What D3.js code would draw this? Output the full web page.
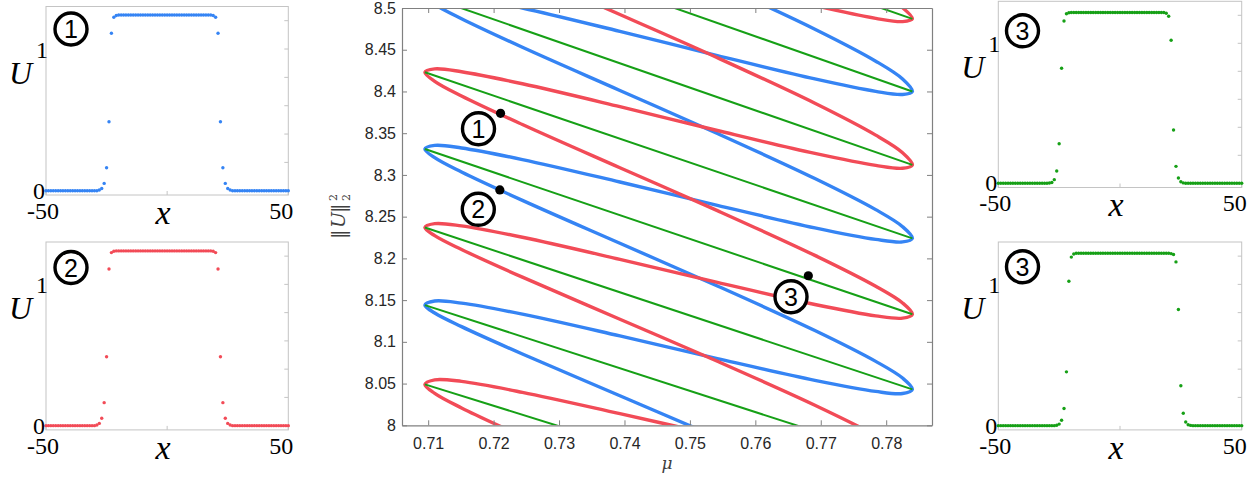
<!DOCTYPE html>
<html>
<head>
<meta charset="utf-8">
<script src="https://cdn.jsdelivr.net/npm/d3@7"></script>
<style>
  body { margin: 0; background: #fff; }
  svg { display: block; }
</style>
</head>
<body>
<svg id="fig" width="1260" height="482"></svg>
<script>
// ---------------- bifurcation diagram data: [mu, ||U||^2] ----------------
// red branch (bond-centred snake), traced from the top of the window downwards
const redBranch = [
  [0.7393, 8.6616], [0.7542, 8.6099], [0.7691, 8.5568], [0.7784, 8.5201], [0.7825, 8.5003], [0.7840, 8.4870],
  [0.7825, 8.4837], [0.7784, 8.4876], [0.7691, 8.5029], [0.7542, 8.5313], [0.7393, 8.5607], [0.7244, 8.5891], [0.7151, 8.6044], [0.7110, 8.6084], [0.7095, 8.6050],
  [0.7110, 8.5947], [0.7151, 8.5777], [0.7244, 8.5439], [0.7393, 8.4922], [0.7542, 8.4404], [0.7691, 8.3859], [0.7784, 8.3477], [0.7825, 8.3267], [0.7840, 8.3120],
  [0.7825, 8.3080], [0.7784, 8.3114], [0.7691, 8.3258], [0.7542, 8.3532], [0.7393, 8.3818], [0.7244, 8.4092], [0.7151, 8.4236], [0.7110, 8.4270], [0.7095, 8.4230],
  [0.7110, 8.4122], [0.7151, 8.3946], [0.7244, 8.3604], [0.7393, 8.3086], [0.7542, 8.2572], [0.7691, 8.2036], [0.7784, 8.1666], [0.7825, 8.1466], [0.7840, 8.1330],
  [0.7825, 8.1284], [0.7784, 8.1311], [0.7691, 8.1447], [0.7542, 8.1712], [0.7393, 8.1988], [0.7244, 8.2253], [0.7151, 8.2389], [0.7110, 8.2416], [0.7095, 8.2370],
  [0.7110, 8.2272], [0.7151, 8.2106], [0.7244, 8.1775], [0.7393, 8.1271], [0.7542, 8.0767], [0.7691, 8.0241], [0.7784, 7.9878], [0.7825, 7.9682], [0.7840, 7.9550],
  [0.7825, 7.9495], [0.7784, 7.9514], [0.7691, 7.9638], [0.7542, 7.9878], [0.7393, 8.0140], [0.7244, 8.0395], [0.7151, 8.0526], [0.7110, 8.0545], [0.7095, 8.0490],
  [0.7110, 8.0383], [0.7151, 8.0208], [0.7244, 7.9867], [0.7393, 7.9351]
];

// blue branch (site-centred snake)
const blueBranch = [
  [0.7393, 8.5805], [0.7542, 8.5291], [0.7691, 8.4746], [0.7784, 8.4363], [0.7825, 8.4150], [0.7840, 8.4000],
  [0.7825, 8.3964], [0.7784, 8.4001], [0.7691, 8.4150], [0.7542, 8.4430], [0.7393, 8.4720], [0.7244, 8.5000], [0.7151, 8.5149], [0.7110, 8.5186], [0.7095, 8.5150],
  [0.7110, 8.5044], [0.7151, 8.4871], [0.7244, 8.4529], [0.7393, 8.4012], [0.7542, 8.3496], [0.7691, 8.2957], [0.7784, 8.2584], [0.7825, 8.2380], [0.7840, 8.2240],
  [0.7825, 8.2197], [0.7784, 8.2227], [0.7691, 8.2366], [0.7542, 8.2635], [0.7393, 8.2915], [0.7244, 8.3184], [0.7151, 8.3323], [0.7110, 8.3354], [0.7095, 8.3310],
  [0.7110, 8.3206], [0.7151, 8.3034], [0.7244, 8.2695], [0.7393, 8.2181], [0.7542, 8.1669], [0.7691, 8.1136], [0.7784, 8.0766], [0.7825, 8.0566], [0.7840, 8.0430],
  [0.7825, 8.0381], [0.7784, 8.0406], [0.7691, 8.0539], [0.7542, 8.0799], [0.7393, 8.1071], [0.7244, 8.1332], [0.7151, 8.1464], [0.7110, 8.1489], [0.7095, 8.1440],
  [0.7110, 8.1345], [0.7151, 8.1182], [0.7244, 8.0854], [0.7393, 8.0354], [0.7542, 7.9854]
];

// green asymmetric rungs: [mu start, norm start, mu end, norm end]
const greenRungs = [
  [0.7095, 8.690, 0.7840, 8.487],
  [0.7095, 8.605, 0.7840, 8.400],
  [0.7095, 8.515, 0.7840, 8.312],
  [0.7095, 8.423, 0.7840, 8.224],
  [0.7095, 8.331, 0.7840, 8.133],
  [0.7095, 8.237, 0.7840, 8.043],
  [0.7095, 8.144, 0.7840, 7.955],
  [0.7095, 8.049, 0.7840, 7.867]
];

// labelled solutions on the diagram
const markerIds  = ["1", "2", "3"];
const markerMu   = [0.72106, 0.72095, 0.7681];
const markerNorm = [8.3738, 8.2820, 8.1792];

const muTicks   = [0.71, 0.72, 0.73, 0.74, 0.75, 0.76, 0.77, 0.78];
const normTicks = [8, 8.05, 8.1, 8.15, 8.2, 8.25, 8.3, 8.35, 8.4, 8.45, 8.5];

// ---------------- solution profiles U(x), x = -50 ... 50 ----------------
const xSites = d3.range(-50, 51);

const profile1 = [
  0, 0, 0, 0, 0, 0, 0, 0, 0, 0,
  0, 0, 0, 0, 0, 0, 0, 0, 0, 0,
  0, 0, 0.005, 0.016, 0.052, 0.162, 0.487, 1.111, 1.224, 1.237,
  1.24, 1.24, 1.24, 1.24, 1.24, 1.24, 1.24, 1.24, 1.24, 1.24,
  1.24, 1.24, 1.24, 1.24, 1.24, 1.24, 1.24, 1.24, 1.24, 1.24,
  1.24, 1.24, 1.24, 1.24, 1.24, 1.24, 1.24, 1.24, 1.24, 1.24,
  1.24, 1.24, 1.24, 1.24, 1.24, 1.24, 1.24, 1.24, 1.24, 1.237,
  1.224, 1.111, 0.487, 0.162, 0.052, 0.016, 0.005, 0, 0, 0,
  0, 0, 0, 0, 0, 0, 0, 0, 0, 0,
  0, 0, 0, 0, 0, 0, 0, 0, 0, 0,
  0
];

const profile2 = [
  0, 0, 0, 0, 0, 0, 0, 0, 0, 0,
  0, 0, 0, 0, 0, 0, 0, 0, 0, 0,
  0, 0.005, 0.016, 0.052, 0.163, 0.488, 1.109, 1.225, 1.234, 1.237,
  1.237, 1.237, 1.237, 1.237, 1.237, 1.237, 1.237, 1.237, 1.237, 1.237,
  1.237, 1.237, 1.237, 1.237, 1.237, 1.237, 1.237, 1.237, 1.237, 1.237,
  1.237, 1.237, 1.237, 1.237, 1.237, 1.237, 1.237, 1.237, 1.237, 1.237,
  1.237, 1.237, 1.237, 1.237, 1.237, 1.237, 1.237, 1.237, 1.237, 1.234,
  1.225, 1.109, 0.488, 0.163, 0.052, 0.016, 0.005, 0, 0, 0,
  0, 0, 0, 0, 0, 0, 0, 0, 0, 0,
  0, 0, 0, 0, 0, 0, 0, 0, 0, 0,
  0
];

const profile3a = [
  0, 0, 0, 0, 0, 0, 0, 0, 0, 0,
  0, 0, 0, 0, 0, 0, 0, 0, 0, 0,
  0, 0.002, 0.006, 0.026, 0.088, 0.282, 0.822, 1.159, 1.211, 1.218,
  1.22, 1.22, 1.22, 1.22, 1.22, 1.22, 1.22, 1.22, 1.22, 1.22,
  1.22, 1.22, 1.22, 1.22, 1.22, 1.22, 1.22, 1.22, 1.22, 1.22,
  1.22, 1.22, 1.22, 1.22, 1.22, 1.22, 1.22, 1.22, 1.22, 1.22,
  1.22, 1.22, 1.22, 1.22, 1.22, 1.22, 1.22, 1.22, 1.22, 1.215,
  1.193, 1.022, 0.381, 0.121, 0.038, 0.011, 0.003, 0, 0, 0,
  0, 0, 0, 0, 0, 0, 0, 0, 0, 0,
  0, 0, 0, 0, 0, 0, 0, 0, 0, 0,
  0
];

const profile3b = [
  0, 0, 0, 0, 0, 0, 0, 0, 0, 0,
  0, 0, 0, 0, 0, 0, 0, 0, 0, 0,
  0, 0, 0, 0, 0.003, 0.011, 0.038, 0.121, 0.381, 1.022,
  1.193, 1.215, 1.22, 1.22, 1.22, 1.22, 1.22, 1.22, 1.22, 1.22,
  1.22, 1.22, 1.22, 1.22, 1.22, 1.22, 1.22, 1.22, 1.22, 1.22,
  1.22, 1.22, 1.22, 1.22, 1.22, 1.22, 1.22, 1.22, 1.22, 1.22,
  1.22, 1.22, 1.22, 1.22, 1.22, 1.22, 1.22, 1.22, 1.22, 1.22,
  1.22, 1.218, 1.211, 1.159, 0.822, 0.282, 0.088, 0.026, 0.006, 0.002,
  0, 0, 0, 0, 0, 0, 0, 0, 0, 0,
  0, 0, 0, 0, 0, 0, 0, 0, 0, 0,
  0
];

const uTicks = [0, 0.2, 0.4, 0.6, 0.8, 1, 1.2];
const xTicks = [-50, 0, 50];

// ---------------- styles ----------------
const RED = "#f24b57", BLUE = "#3584f4", GREEN = "#16a016";
const svg = d3.select("#fig");

// ---------------- central bifurcation diagram ----------------
const M = { left: 402, right: 932, top: 8, bottom: 425.3 };
const xMu = d3.scaleLinear().domain([0.706, 0.787]).range([M.left, M.right]);
const yN  = d3.scaleLinear().domain([8, 8.5]).range([M.bottom, M.top]);

svg.append("defs").append("clipPath").attr("id", "clipMain")
  .append("rect").attr("x", M.left).attr("y", M.top)
  .attr("width", M.right - M.left).attr("height", M.bottom - M.top);

const plot = svg.append("g").attr("clip-path", "url(#clipMain)");
const curve = d3.line().x(d => xMu(d[0])).y(d => yN(d[1])).curve(d3.curveCatmullRom.alpha(0.5));

plot.append("path").datum(blueBranch).attr("d", curve)
  .attr("fill", "none").attr("stroke", BLUE).attr("stroke-width", 3.4).attr("stroke-linejoin", "round");
plot.append("path").datum(redBranch).attr("d", curve)
  .attr("fill", "none").attr("stroke", RED).attr("stroke-width", 3.4).attr("stroke-linejoin", "round");
plot.selectAll("line.rung").data(greenRungs).join("line").attr("class", "rung")
  .attr("x1", d => xMu(d[0])).attr("y1", d => yN(d[1]))
  .attr("x2", d => xMu(d[2])).attr("y2", d => yN(d[3]))
  .attr("stroke", GREEN).attr("stroke-width", 2);

// axes: box with inward ticks on all four sides
const AX = "#808080", TXT = "#262626";
function styleAxis(g) {
  g.select(".domain").attr("stroke", AX).attr("stroke-width", 1.2);
  g.selectAll(".tick line").attr("stroke", AX).attr("stroke-width", 1);
  g.selectAll(".tick text").attr("fill", TXT)
    .style("font-family", "'Liberation Sans', Arial, Helvetica, sans-serif").style("font-size", "16px");
}
const fmtN = d => String(+d.toFixed(2));
svg.append("g").attr("transform", `translate(0,${M.bottom})`)
  .call(d3.axisBottom(xMu).tickValues(muTicks).tickFormat(fmtN).tickSizeInner(-5).tickSizeOuter(0).tickPadding(12))
  .call(styleAxis);
svg.append("g").attr("transform", `translate(0,${M.top})`)
  .call(d3.axisTop(xMu).tickValues(muTicks).tickFormat("").tickSizeInner(-5).tickSizeOuter(0))
  .call(styleAxis);
svg.append("g").attr("transform", `translate(${M.left},0)`)
  .call(d3.axisLeft(yN).tickValues(normTicks).tickFormat(fmtN).tickSizeInner(-5).tickSizeOuter(0).tickPadding(6))
  .call(styleAxis);
svg.append("g").attr("transform", `translate(${M.right},0)`)
  .call(d3.axisRight(yN).tickValues(normTicks).tickFormat("").tickSizeInner(-5).tickSizeOuter(0))
  .call(styleAxis);

// axis titles
svg.append("text").attr("x", 667).attr("y", 469).attr("text-anchor", "middle")
  .attr("fill", "#404040").style("font-family", "'DejaVu Serif', 'Liberation Serif', serif")
  .style("font-style", "italic").style("font-size", "17px").text("μ");

// ‖U‖ with stacked sub/superscript 2, written bottom-to-top
const yl = svg.append("g").attr("transform", "translate(345,239) rotate(-90)")
  .attr("fill", "#404040").style("font-family", "'DejaVu Serif', 'Liberation Serif', serif");
yl.append("text").attr("x", 0).attr("y", 0).style("font-size", "19px").text("‖");
yl.append("text").attr("x", 11).attr("y", 0).style("font-size", "19px").style("font-style", "italic").text("U");
yl.append("text").attr("x", 26).attr("y", 0).style("font-size", "19px").text("‖");
yl.append("text").attr("x", 38).attr("y", -8).style("font-size", "11px").text("2");
yl.append("text").attr("x", 38).attr("y", 5).style("font-size", "11px").text("2");

// markers on the diagram
const badgeFont = "'Liberation Sans', Arial, Helvetica, sans-serif";
function badge(cx, cy, label) {
  svg.append("circle").attr("cx", cx).attr("cy", cy).attr("r", 16)
    .attr("fill", "#fff").attr("stroke", "#000").attr("stroke-width", 3.4);
  svg.append("text").attr("x", cx).attr("y", cy + 9).attr("text-anchor", "middle")
    .style("font-family", badgeFont).style("font-size", "25px").attr("fill", "#000").text(label);
}
const badgeSpots = [[478.5, 128.7], [478.3, 209.3], [791, 296.7]];
markerIds.forEach((id, i) => badge(badgeSpots[i][0], badgeSpots[i][1], id));
svg.selectAll("circle.mark").data(markerIds).join("circle").attr("class", "mark")
  .attr("cx", (d, i) => xMu(markerMu[i])).attr("cy", (d, i) => yN(markerNorm[i]))
  .attr("r", 4.6).attr("fill", "#000");

// ---------------- profile panels ----------------
function panel(p) {
  const xs = d3.scaleLinear().domain([-50, 50]).range([p.left, p.right]);
  const ys = d3.scaleLinear().domain([-0.03, 1.3]).range([p.bottom, p.top]);
  const g = svg.append("g");
  const frame = "#c4c4c4";
  g.append("rect").attr("x", p.left).attr("y", p.top)
    .attr("width", p.right - p.left).attr("height", p.bottom - p.top)
    .attr("fill", "none").attr("stroke", frame).attr("stroke-width", 1);
  g.selectAll("line.ty").data(uTicks).join("line")
    .attr("x1", p.right).attr("x2", p.right - 4)
    .attr("y1", d => ys(d)).attr("y2", d => ys(d)).attr("stroke", frame);
  g.selectAll("line.tx").data(xTicks).join("line")
    .attr("x1", d => xs(d)).attr("x2", d => xs(d))
    .attr("y1", p.bottom).attr("y2", p.bottom - 4).attr("stroke", frame);
  g.selectAll("circle.u").data(p.values).join("circle")
    .attr("cx", (d, i) => xs(xSites[i])).attr("cy", d => ys(d))
    .attr("r", 1.7).attr("fill", p.color);

  const serif = "'Liberation Serif', 'Times New Roman', serif";
  const t = (x, y, s, size, anchor, italic) => g.append("text").attr("x", x).attr("y", y)
    .attr("text-anchor", anchor).style("font-family", serif).style("font-size", size + "px")
    .style("font-style", italic ? "italic" : "normal").attr("fill", "#000").text(s);
  t(p.left + 2, ys(1) + 8.5, "1", 24, "end", false);
  t(p.left - 1, ys(0) + 8, "0", 24, "end", false);
  t(p.left - 3, ys(0) + 28, "-50", 24, "middle", false);
  t(p.right - 7, ys(0) + 28, "50", 24, "middle", false);
  t((p.left + p.right) / 2 - 4, ys(0) + 33, "x", 34, "middle", true);
  t(p.left - 37, ys(1) + 35, "U", 32, "start", true);
  badge(p.bx, p.by, p.badge);
}

panel({ left: 46, right: 288.3, top: 6.5, bottom: 195, values: profile1, color: BLUE, badge: "1", bx: 71, by: 29 });
panel({ left: 46, right: 288.3, top: 242, bottom: 429.9, values: profile2, color: RED, badge: "2", bx: 71, by: 267.5 });
panel({ left: 998.3, right: 1241.7, top: 1.3, bottom: 187.5, values: profile3a, color: GREEN, badge: "3", bx: 1022.5, by: 30.8 });
panel({ left: 998.3, right: 1241.7, top: 242, bottom: 429.9, values: profile3b, color: GREEN, badge: "3", bx: 1022.5, by: 266.7 });
</script>
</body>
</html>
